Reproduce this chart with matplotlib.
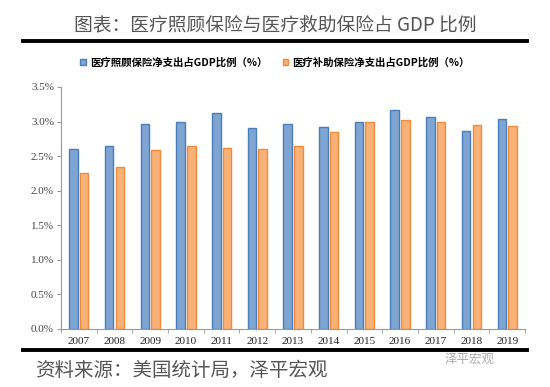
import numpy as np
import matplotlib.pyplot as plt
from matplotlib.lines import Line2D
from matplotlib.patches import Patch

years = ['2007', '2008', '2009', '2010', '2011', '2012', '2013',
         '2014', '2015', '2016', '2017', '2018', '2019']
medicare = [2.60, 2.65, 2.97, 3.00, 3.12, 2.90, 2.97, 2.92, 3.00, 3.17, 3.06, 2.86, 3.03]
medicaid = [2.25, 2.34, 2.59, 2.65, 2.62, 2.61, 2.65, 2.85, 2.99, 3.02, 2.99, 2.95, 2.94]
yticks = [0.0, 0.5, 1.0, 1.5, 2.0, 2.5, 3.0, 3.5]

title = '图表：医疗照顾保险与医疗救助保险占 GDP 比例'
name1 = '医疗照顾保险净支出占GDP比例（%）'
name2 = '医疗补助保险净支出占GDP比例（%）'
source = '资料来源：美国统计局，泽平宏观'

cjk = ['Noto Sans CJK SC', 'DejaVu Sans']
serif = ['Liberation Serif', 'DejaVu Serif']

fig = plt.figure(figsize=(5.5, 3.87), dpi=100)
ax = fig.add_axes([61/550, 1 - 329/387, (525 - 61)/550, (329 - 87)/387])

x = np.arange(len(years))
w = 0.24
ax.bar(x - w/2 - 0.03, medicare, w, color='#7FA5D3', edgecolor='#4A7EBB', linewidth=1.0)
ax.bar(x + w/2 + 0.03, medicaid, w, color='#F8B176', edgecolor='#F08A3C', linewidth=1.0)

ax.set_xlim(-0.5, len(years) - 0.5)
ax.set_ylim(0, 3.5)
ax.set_yticks(yticks)
ax.set_yticklabels([f'{v:.1f}%' for v in yticks], fontfamily=serif, fontsize=8, color='#444444')
ax.set_xticks(x)
ax.set_xticklabels(years, fontfamily=serif, fontsize=8, color='#222222')
ax.set_xticks(np.arange(-0.5, len(years)), minor=True)
ax.tick_params(axis='x', which='major', length=0, pad=6)
ax.tick_params(axis='x', which='minor', length=3, color='#999999')
ax.tick_params(axis='y', length=3, color='#999999', pad=2)
for s in ['top', 'right']:
    ax.spines[s].set_visible(False)
for s in ['left', 'bottom']:
    ax.spines[s].set_color('#999999')
    ax.spines[s].set_linewidth(0.8)

fig.text(0.5, 1 - 25/387, title, ha='center', va='center', fontsize=13.5,
         family=cjk, color='#555555')
fig.add_artist(Line2D([23/550, 527/550], [1 - 41/387] * 2, color='black', linewidth=2.8))
fig.add_artist(Line2D([23/550, 527/550], [1 - 350/387] * 2, color='black', linewidth=2.8))

handles = [Patch(facecolor='#7FA5D3', edgecolor='#4A7EBB'),
           Patch(facecolor='#F8B176', edgecolor='#F08A3C')]
fig.legend(handles, [name1, name2], loc='center', bbox_to_anchor=(0.5, 1 - 62/387),
           ncol=2, frameon=False, prop={'family': cjk, 'size': 7.5, 'weight': 'bold'},
           handlelength=0.5, handleheight=0.5, handletextpad=0.4, columnspacing=1.5)

fig.text(35/550, 1 - 370/387, source, ha='left', va='center', fontsize=14,
         family=cjk, style='italic', color='#555555')
fig.text(470/550, 1 - 359/387, '泽平宏观', ha='center', va='center', fontsize=9,
         family=cjk, style='italic', color='#aaaaaa')

fig.savefig('out.png', dpi=100)
